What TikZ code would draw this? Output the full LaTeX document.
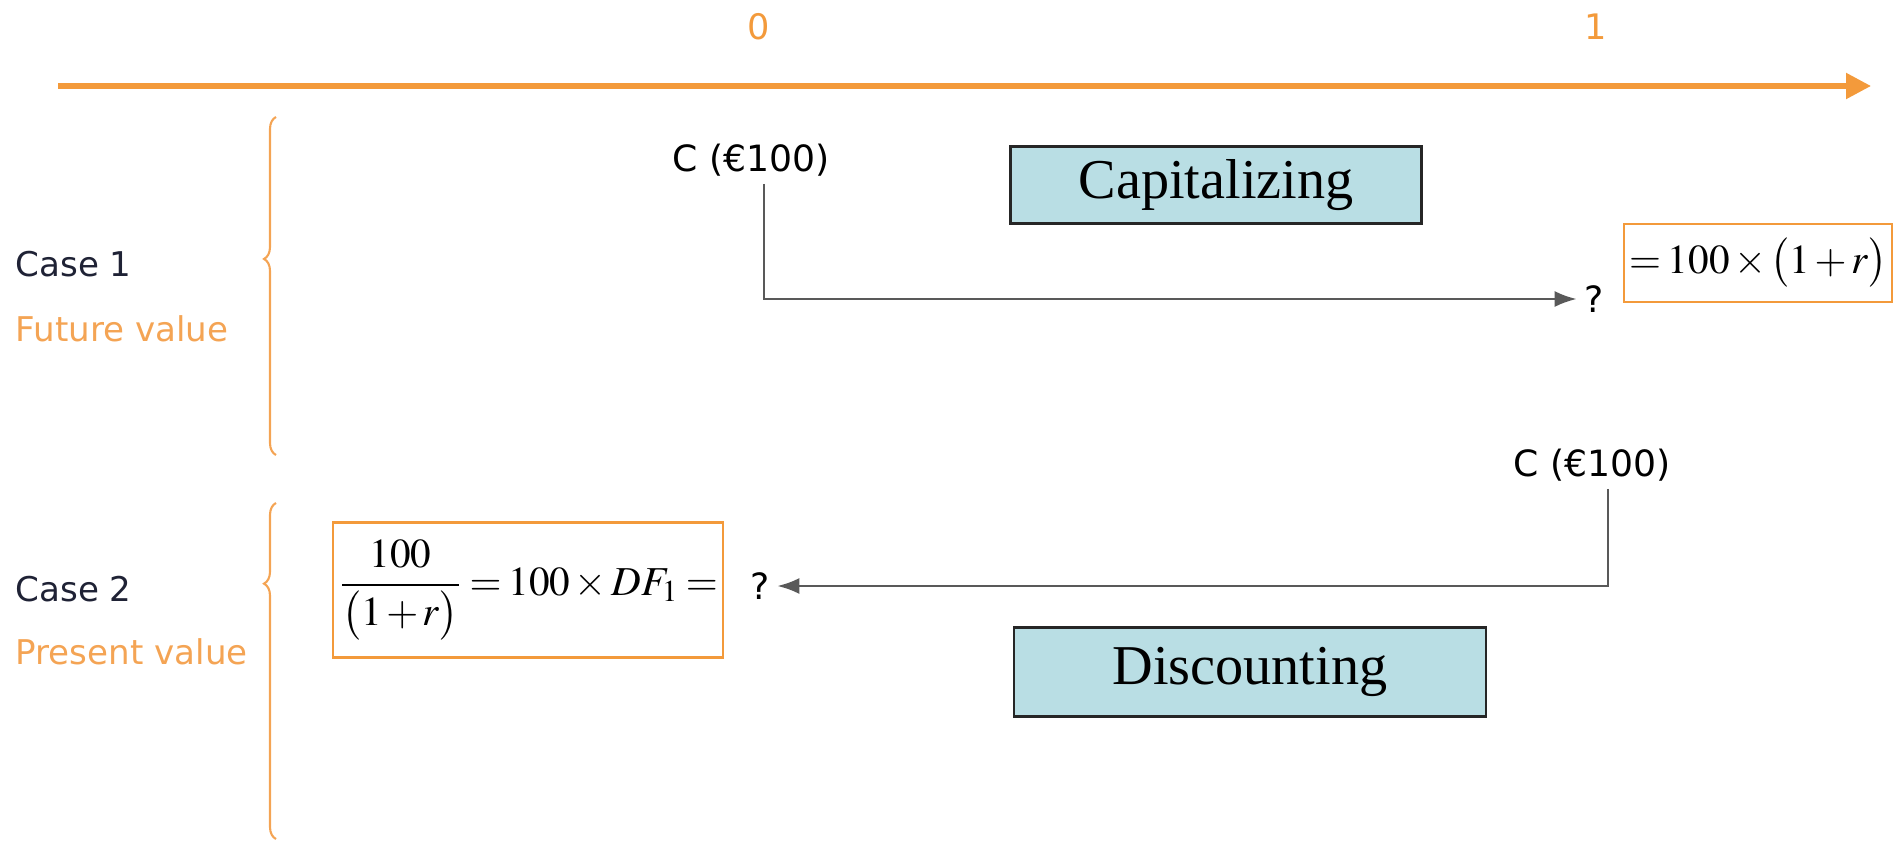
\documentclass[tikz,border=0pt]{standalone}
\usepackage{amsmath}
\usepackage{mathptmx}
\usepackage{fontspec}
\setmainfont{Liberation Serif}
\newfontfamily\labelfont{DejaVu Sans}
\usetikzlibrary{arrows.meta, positioning, decorations.pathreplacing}
\definecolor{timeline}{HTML}{F39A3B}
\definecolor{caseorange}{HTML}{F4A454}
\definecolor{boxteal}{HTML}{B9DEE4}
\definecolor{casetext}{HTML}{1F2235}
\newcommand{\tightmath}{\medmuskip=2mu\thickmuskip=3mu}

\begin{document}
\begin{tikzpicture}[
    every node/.style={inner sep=2pt},
    tick_lbl/.style={font=\labelfont\fontsize{10}{12}\selectfont, text=timeline},
    case_lbl/.style={font=\labelfont\fontsize{9.7}{12}\selectfont, text=casetext, anchor=west},
    case_sub/.style={case_lbl, text=caseorange},
    cash/.style={font=\labelfont\fontsize{10.3}{12}\selectfont},
    qmark/.style={font=\labelfont\fontsize{10.3}{12}\selectfont},
    op_box/.style={
        rectangle,
        draw=black!85,
        line width=0.8pt,
        fill=boxteal,
        font=\fontsize{16}{19}\selectfont
    },
    res_box/.style={
        rectangle,
        draw=timeline,
        line width=0.7pt,
        inner xsep=1.5pt,
        inner ysep=3pt,
        font=\fontsize{11.7}{14}\selectfont\tightmath
    },
    flow/.style={draw=black!65, line width=0.7pt, -{Latex[length=2.2mm, width=1.6mm]}},
    case_brace/.style={draw=caseorange, line width=0.6pt, decorate, decoration={brace, amplitude=0.12cm}}
]

\useasboundingbox (0,0) rectangle (18.99,-8.43);

% time line
\coordinate (t_start) at (0.58,-0.86);
\coordinate (t_end) at (18.71,-0.86);
\draw[timeline, line width=1.5pt, -{Triangle[length=2.5mm, width=2.5mm]}] (t_start) -- (t_end);
\node[tick_lbl] (t0) at (7.59,-0.27) {0};
\node[tick_lbl] (t1) at (15.96,-0.27) {1};

% cases
\coordinate (b1_bot) at (2.76,-4.55);
\coordinate (b1_top) at (2.76,-1.17);
\coordinate (b2_bot) at (2.76,-8.39);
\coordinate (b2_top) at (2.76,-5.03);
\draw[case_brace, decoration={aspect=0.58}] (b1_bot) -- (b1_top);
\draw[case_brace, decoration={aspect=0.76}] (b2_bot) -- (b2_top);

\node[case_lbl] (case1) at (0.08,-2.64) {Case 1};
\node[case_sub] (fv_lbl) at (0.08,-3.29) {Future value};
\node[case_lbl] (case2) at (0.08,-5.89) {Case 2};
\node[case_sub] (pv_lbl) at (0.08,-6.52) {Present value};

% capitalizing
\node[cash] (c1) at (7.51,-1.60) {C (€100)};
\node[op_box, minimum width=4.11cm, minimum height=0.77cm] (cap) at (12.16,-1.85) {Capitalizing};
\node[qmark] (q1) at (15.94,-2.99) {?};
\node[res_box, minimum width=2.64cm, minimum height=0.78cm] (fv) at (17.58,-2.63) {$=100\times\bigl(1+r\bigr)$};

\draw[flow] ([xshift=0.13cm]c1.south) |- (q1.west);

% discounting
\node[cash] (c2) at (15.92,-4.65) {C (€100)};
\node[op_box, minimum width=4.72cm, minimum height=0.89cm] (disc) at (12.50,-6.72) {Discounting};
\node[qmark] (q2) at (7.60,-5.86) {?};
\node[res_box, minimum width=3.90cm, minimum height=1.35cm] (pv) at (5.28,-5.90) {$\dfrac{100}{\bigl(1+r\bigr)}=100\times DF_1=$};

\draw[flow] ([xshift=0.16cm]c2.south) |- (q2.east);

\end{tikzpicture}
\end{document}
